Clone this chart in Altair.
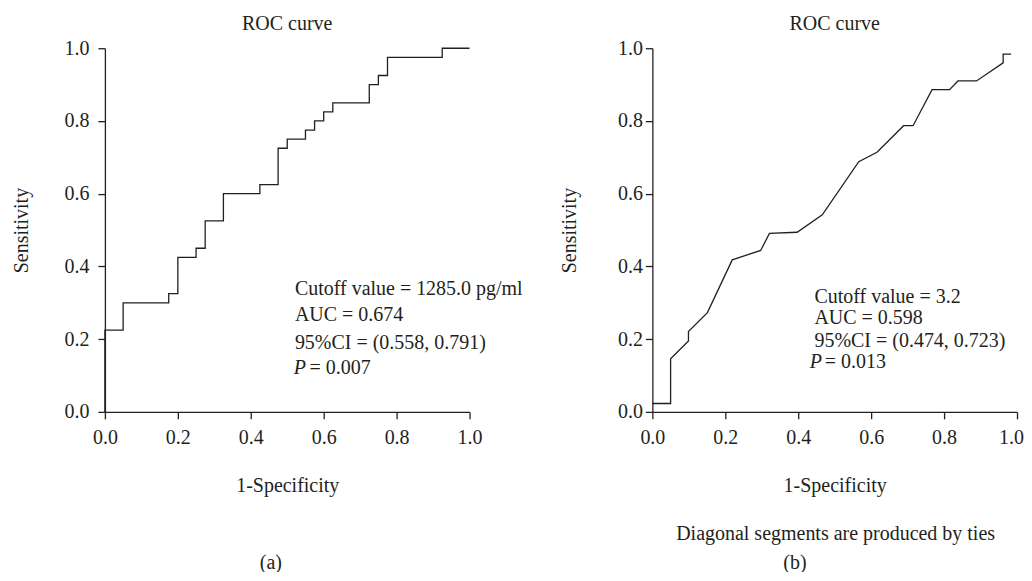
import altair as alt
import pandas as pd

FONT = "Liberation Serif"
INK = "#231f20"

# ---- Panel (a): step ROC curve ----
a_fpr = [0.0, 0.0, 0.05, 0.175, 0.2, 0.25, 0.275, 0.325, 0.425, 0.475, 0.5, 0.55,
         0.575, 0.6, 0.625, 0.725, 0.75, 0.775, 0.925, 1.0]
a_tpr = [0.0, 0.225, 0.3, 0.325, 0.425, 0.45, 0.525, 0.6, 0.625, 0.725, 0.75, 0.775,
         0.8, 0.825, 0.85, 0.9, 0.925, 0.975, 1.0, 1.0]
a_notes = ["Cutoff value = 1285.0 pg/ml", "AUC = 0.674", "95%CI = (0.558, 0.791)"]
a_p = "= 0.007"
a_caption = "(a)"

# ---- Panel (b): ROC curve with diagonal tie segments ----
b_fpr = [0.0, 0.05, 0.05, 0.099, 0.099, 0.151, 0.219, 0.297, 0.321, 0.397, 0.466,
         0.566, 0.616, 0.689, 0.715, 0.767, 0.815, 0.838, 0.889, 0.962, 0.962, 0.984]
b_tpr = [0.023, 0.023, 0.146, 0.195, 0.221, 0.273, 0.418, 0.444, 0.491, 0.494, 0.542,
         0.688, 0.714, 0.787, 0.787, 0.886, 0.886, 0.910, 0.910, 0.960, 0.984, 0.984]
b_notes = ["Cutoff value = 3.2", "AUC = 0.598", "95%CI = (0.474, 0.723)"]
b_p = "= 0.013"
b_caption = "(b)"
b_footnote = "Diagonal segments are produced by ties"

ticks = [0.0, 0.2, 0.4, 0.6, 0.8, 1.0]


def axis(label_pad, title_pad, last_shift=0):
    kw = {}
    if last_shift:
        kw["labelOffset"] = {"condition": {"test": "datum.value === 1", "value": last_shift},
                             "value": 0}
    return alt.Axis(values=ticks, format=".1f", grid=False, labelFlush=False,
                    domainColor=INK, tickColor=INK, domainWidth=1.3, tickWidth=1.3,
                    tickSize=7, labelPadding=label_pad, labelFont=FONT,
                    labelFontSize=20, labelColor=INK, titleFont=FONT,
                    titleFontSize=20, titleFontWeight="normal", titleColor=INK,
                    titlePadding=title_pad, **kw)


def panel(fpr, tpr, interp, notes, note_x, note_y, p_x, eq_x, p_y, p_text,
          caption, caption_x, ylab_pad, ytitle_pad, footnote=None, last_shift=0):
    sc = alt.Scale(domain=[0, 1], nice=False, zero=False)
    xax = axis(9, 28, last_shift)
    yax = axis(ylab_pad, ytitle_pad)

    def X(f):
        return alt.X(f, type="quantitative", scale=sc, axis=xax, title="1-Specificity")

    def Y(f):
        return alt.Y(f, type="quantitative", scale=sc, axis=yax, title="Sensitivity")

    curve = pd.DataFrame({"fpr": fpr, "tpr": tpr, "i": list(range(len(fpr)))})
    line = alt.Chart(curve).mark_line(interpolate=interp, color=INK, strokeWidth=1.3).encode(
        x=X("fpr"), y=Y("tpr"), order="i:Q")

    nd = pd.DataFrame({"fpr": [note_x] * len(notes), "tpr": note_y, "t": notes})
    note_txt = alt.Chart(nd).mark_text(align="left", baseline="middle", font=FONT,
                                       fontSize=20, color=INK).encode(
        x=X("fpr"), y=Y("tpr"), text="t:N")

    pd_it = pd.DataFrame({"fpr": [p_x], "tpr": [p_y], "t": ["P"]})
    p_it = alt.Chart(pd_it).mark_text(align="left", baseline="middle", font=FONT,
                                      fontSize=20, fontStyle="italic", color=INK).encode(
        x=X("fpr"), y=Y("tpr"), text="t:N")
    pd_eq = pd.DataFrame({"fpr": [eq_x], "tpr": [p_y], "t": [p_text]})
    p_eq = alt.Chart(pd_eq).mark_text(align="left", baseline="middle", font=FONT,
                                      fontSize=20, color=INK).encode(
        x=X("fpr"), y=Y("tpr"), text="t:N")

    cap_rows = {"fpr": [caption_x], "tpr": [-0.415], "t": [caption]}
    if footnote:
        cap_rows["fpr"].append(0.5025)
        cap_rows["tpr"].append(-0.3345)
        cap_rows["t"].append(footnote)
    cap = alt.Chart(pd.DataFrame(cap_rows)).mark_text(align="center", baseline="middle",
                                                       font=FONT, fontSize=20, color=INK).encode(
        x=X("fpr"), y=Y("tpr"), text="t:N")

    return alt.layer(line, note_txt, p_it, p_eq, cap).properties(
        width=365, height=364,
        title=alt.Title("ROC curve", font=FONT, fontSize=20, fontWeight="normal",
                        color=INK, offset=4, anchor="middle", frame="group"))


pa = panel(a_fpr, a_tpr, "step-after", a_notes, 0.521, [0.338, 0.266, 0.189],
           0.518, 0.561, 0.122, a_p, a_caption, 0.455, 9, 32)
pb = panel(b_fpr, b_tpr, "linear", b_notes, 0.4445, [0.317, 0.257, 0.196],
           0.4316, 0.4727, 0.138, b_p, b_caption, 0.391, 3, 38, footnote=b_footnote,
           last_shift=-6)

chart = alt.hconcat(pa, pb, spacing=36).properties(
    padding={"left": 4, "top": 6, "right": 0, "bottom": -2},
    background="white",
).configure_view(stroke=None)

chart.save("out.html", embed_options={"renderer": "svg", "actions": False})
